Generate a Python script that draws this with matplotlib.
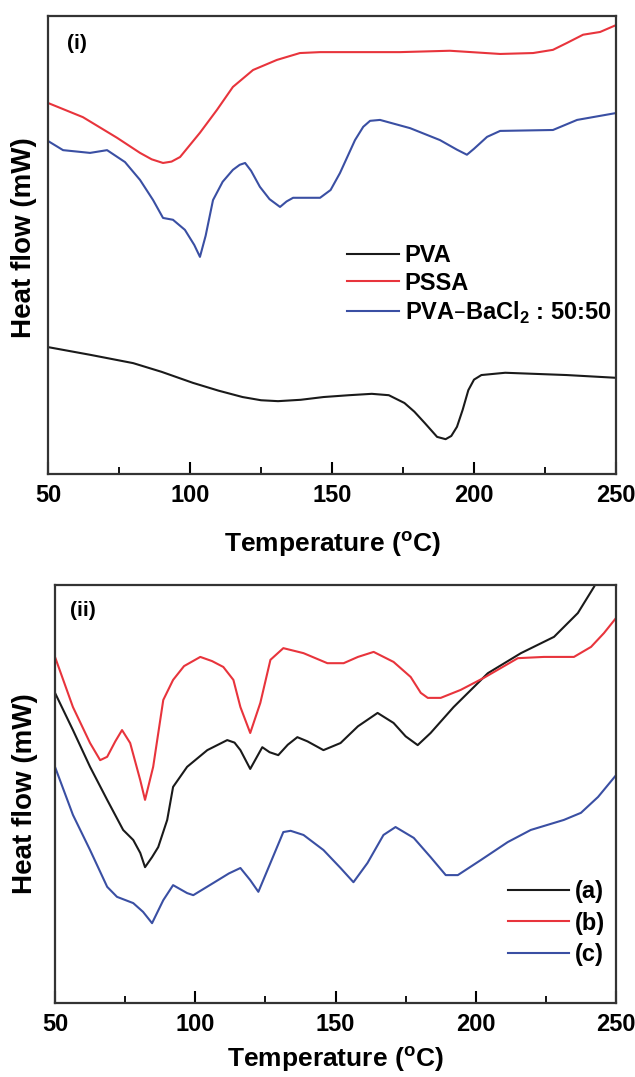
import matplotlib
matplotlib.use("Agg")
import matplotlib.pyplot as plt
from matplotlib.ticker import MultipleLocator

plt.rcParams["font.family"] = ["Liberation Sans", "DejaVu Sans"]
plt.rcParams["font.weight"] = "bold"

# panel (i): temperature (C) and heat flow (arbitrary units)
pva_t = [50, 65, 80, 90, 101, 110, 118.5, 125, 131, 139, 147, 156, 164, 170, 175.5, 179, 182.7,
         187, 190, 192, 194, 196, 198, 200, 202.6, 211, 232.6, 250]
pva_hf = [27.7, 26.0, 24.2, 22.3, 19.9, 18.2, 16.8, 16.1, 15.9, 16.2, 16.8, 17.2, 17.5, 17.2,
          15.5, 13.6, 11.1, 8.1, 7.6, 8.3, 10.3, 14.0, 18.3, 20.6, 21.6, 22.1, 21.6, 21.0]

pssa_t = [50, 62.3, 74.3, 82.4, 86.5, 90.5, 93.5, 96.5, 103.5, 109.5, 115.1, 122.2, 130.6, 138.7,
          145.8, 173.9, 191.5, 209.2, 220.8, 227.8, 232.7, 238.4, 244.4, 250]
pssa_hf = [81.0, 77.9, 73.4, 70.1, 68.7, 67.9, 68.2, 69.2, 74.5, 79.5, 84.5, 88.2, 90.4, 91.9,
           92.1, 92.1, 92.4, 91.7, 91.9, 92.6, 94.1, 95.9, 96.5, 98.0]

ba_t = [50, 55.3, 64.8, 70.8, 77.1, 82.4, 87, 90.5, 94.0, 98.2, 101.5, 103.5, 105.5, 108.1, 111.5,
        115.1, 117.5, 119.4, 121.5, 124.6, 128, 131.7, 134, 136.3, 145.8, 149.5, 152.8, 158.1,
        161, 163.4, 166.9, 177.5, 188.0, 194, 197.5, 200, 204.6, 209.2, 227.8, 236.3, 250]
ba_hf = [72.7, 70.7, 70.1, 70.7, 68.1, 64.2, 59.8, 55.9, 55.5, 53.3, 50.0, 47.4, 52.0, 59.8, 63.8,
         66.4, 67.5, 67.9, 66.2, 62.7, 60.0, 58.3, 59.5, 60.3, 60.3, 62.0, 65.7, 72.9,
         75.8, 77.1, 77.3, 75.5, 72.9, 70.8, 69.7, 71.0, 73.6, 74.9, 75.1, 77.3, 78.8]

# panel (ii)
a_t = [50, 56.4, 62.5, 68.6, 74.3, 77.9, 80.4, 82.1, 84.6, 86.8, 90.0, 92.1, 97.1, 104.3, 111.4,
       114, 116.1, 119.6, 123.9, 126.5, 129.6, 133, 136.4, 140, 145.7, 151.8, 158, 165.0, 170.7,
       175, 179.3, 183.9, 192.1, 204.3, 216.1, 227.9, 236.4, 242.1, 246.4]
a_hf = [74.2, 65.3, 56.5, 48.6, 41.4, 39.0, 35.9, 32.5, 34.9, 37.3, 43.8, 51.7, 56.5, 60.5, 62.9,
        62.3, 60.5, 56.0, 61.2, 60.0, 59.3, 61.8, 63.6, 62.6, 60.5, 62.2, 66.2, 69.4, 67.0,
        63.8, 61.7, 64.6, 70.8, 78.9, 83.7, 87.6, 93.3, 99.5, 104.8]

b_t = [50, 56.4, 62.5, 66.1, 68.6, 71.5, 73.9, 76.8, 80.4, 82.1, 85.0, 88.6, 92.1, 96, 101.8,
       106, 110.0, 113.6, 116.1, 119.6, 123.2, 126.8, 131.4, 138.6, 147.1, 152.9, 158, 163.6,
       170.7, 176.8, 180.4, 182.9, 187.5, 194.6, 202.9, 215.0, 224.3, 235.0, 241.1, 245.7, 250]
b_hf = [82.8, 70.8, 62.2, 58.1, 58.9, 62.6, 65.3, 62.2, 53.3, 48.6, 56.5, 72.5, 77.3, 80.6, 82.8,
        81.8, 80.4, 77.3, 70.8, 64.6, 71.8, 82.1, 84.9, 83.7, 81.3, 81.3, 82.8, 84.0,
        81.6, 78.0, 74.2, 73.0, 73.0, 74.9, 77.8, 82.5, 82.8, 82.8, 85.2, 88.5, 92.1]

c_t = [50, 56.4, 62.5, 68.6, 72.1, 77.9, 81.4, 84.6, 88.6, 92.1, 97.1, 99.3, 106.4, 112, 116.1,
       119.6, 122.5, 126.8, 131.4, 134, 138.6, 145.7, 151.8, 156.4, 161.4, 167.1, 171.4, 177.9,
       183.9, 189.3, 193.6, 201.8, 211.4, 219.6, 231.4, 237.5, 243.6, 250]
c_hf = [56.5, 45.0, 36.6, 27.8, 25.4, 23.9, 21.8, 19.1, 24.6, 28.2, 26.3, 25.8, 28.7, 31.0, 32.3,
        29.4, 26.6, 33.5, 40.9, 41.2, 40.2, 36.6, 32.3, 28.9, 33.5, 40.2, 42.1, 39.5,
        34.9, 30.6, 30.6, 34.2, 38.5, 41.4, 43.8, 45.5, 49.3, 54.5]

BLACK = "#1a1a1a"
RED = "#e8343c"
BLUE = "#3a4fa3"


def style_axis(ax, tag, tag_x):
    ax.set_xlim(50, 250)
    ax.set_ylim(0, 100)
    ax.set_yticks([])
    ax.xaxis.set_major_locator(MultipleLocator(50))
    ax.xaxis.set_minor_locator(MultipleLocator(25))
    ax.tick_params(axis="x", which="major", direction="in", length=9, width=1.5,
                   labelsize=17, pad=7, top=False)
    ax.tick_params(axis="x", which="minor", direction="in", length=5, width=1.3, top=False)
    for lab in ax.get_xticklabels():
        lab.set_fontweight("bold")
    for sp in ax.spines.values():
        sp.set_linewidth(1.6)
        sp.set_color("#333333")
    ax.set_xlabel("Temperature ($\\mathregular{^{o}}$C)", fontsize=19, fontweight="bold")
    ax.set_ylabel("Heat flow (mW)", fontsize=20, fontweight="bold")
    ax.text(tag_x, 0.94, tag, transform=ax.transAxes, fontsize=15, fontweight="bold",
            ha="left", va="center")


fig = plt.figure(figsize=(6.35, 10.77), dpi=100)
ax1 = fig.add_axes([0.0756, 0.5599, 0.8945, 0.4253])
ax2 = fig.add_axes([0.0866, 0.0687, 0.8835, 0.3881])

ax1.plot(pva_t, pva_hf, color=BLACK, lw=1.5, label="PVA")
ax1.plot(pssa_t, pssa_hf, color=RED, lw=1.5, label="PSSA")
ax1.plot(ba_t, ba_hf, color=BLUE, lw=1.5, label="PVA\u2013BaCl$_\\mathregular{2}$ : 50:50")
style_axis(ax1, "(i)", 0.033)
ax1.xaxis.set_label_coords(0.5, -0.122)
ax1.yaxis.set_label_coords(-0.02, 0.517)
ax1.legend(loc="center left", bbox_to_anchor=(0.526, 0.413), frameon=False,
           handlelength=2.2, handletextpad=0.25, labelspacing=0.2, borderpad=0,
           borderaxespad=0, prop={"weight": "bold", "size": 17})

ax2.plot(a_t, a_hf, color=BLACK, lw=1.5, label="(a)")
ax2.plot(b_t, b_hf, color=RED, lw=1.5, label="(b)")
ax2.plot(c_t, c_hf, color=BLUE, lw=1.5, label="(c)")
style_axis(ax2, "(ii)", 0.027)
ax2.xaxis.set_label_coords(0.5, -0.100)
ax2.yaxis.set_label_coords(-0.03, 0.50)
ax2.legend(loc="center left", bbox_to_anchor=(0.807, 0.191), frameon=False,
           handlelength=2.6, handletextpad=0.25, labelspacing=0.35, borderpad=0,
           borderaxespad=0, prop={"weight": "bold", "size": 17})

fig.savefig("out.png", dpi=100)
